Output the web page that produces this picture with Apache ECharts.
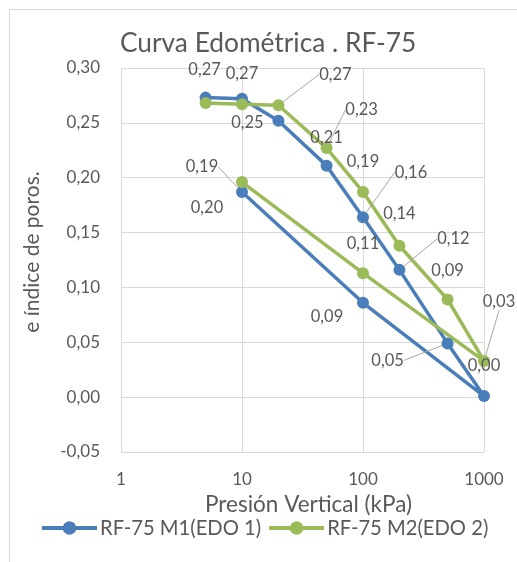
<!DOCTYPE html>
<html><head><meta charset="utf-8">
<script src="https://cdn.jsdelivr.net/npm/echarts@6/dist/echarts.min.js"></script>
<style>html,body{margin:0;padding:0;background:#fff}#c{width:517px;height:562px}</style>
</head><body><div id="c"></div><script>
// Data (loading 5 -> 1000 kPa, then unloading to 100 and 10 kPa)
const pressures = [5, 10, 20, 50, 100, 200, 500, 1000, 100, 10];
const m1Values = [0.273, 0.272, 0.252, 0.211, 0.164, 0.116, 0.049, 0.001, 0.086, 0.187];
const m2Values = [0.268, 0.267, 0.266, 0.227, 0.187, 0.138, 0.089, 0.033, 0.113, 0.196];
const seriesNames = ['RF-75 M1(EDO 1)', 'RF-75 M2(EDO 2)'];
const xTickLabels = ['1', '10', '100', '1000'];

// Label placement (style only)
const m1LabelMove = [[-1,-28],[0,-25],[-31,2],[0,-28],[48,-45],[54,-31],[-60,17],[0,-30],[-36,14],[-40,-25]];
const m1Leader = [0,0,0,0,1,1,1,0,0,1];
const m2LabelMove = [null,null,[57,-31],[35,-38],[0,-30],[0,-32],[0,-29],[15,-59],[0,-29],[-35,26]];
const m2Leader = [0,0,1,1,0,0,0,1,0,0];

const TXT = '#595959', GRID = '#d9d9d9', FONT = 'Lato';
const fmt = v => v.toFixed(2).replace('.', ',');

function build(values, moves, leaders) {
  return values.map((v, i) => {
    const item = { value: [pressures[i], v] };
    if (!moves[i]) item.label = { show: false };
    if (leaders[i]) item.labelLine = { show: true, lineStyle: { color: '#a6a6a6', width: 1 } };
    return item;
  });
}

function makeSeries(name, values, color, moves, leaders) {
  return {
    name, type: 'line', data: build(values, moves, leaders),
    color, symbol: 'circle', symbolSize: 12,
    lineStyle: { width: 3.5, color }, itemStyle: { color },
    label: {
      show: true, position: 'inside', color: TXT, fontSize: 16.5, fontFamily: FONT,
      formatter: p => fmt(p.value[1])
    },
    labelLine: { show: false },
    labelLayout: p => { const m = moves[p.dataIndex]; return m ? { dx: m[0], dy: m[1] } : {}; },
    emphasis: { disabled: true }, animation: false
  };
}

const chart = echarts.init(document.getElementById('c'), null, { renderer: 'canvas' });
chart.setOption({
  backgroundColor: '#fff',
  animation: false,
  graphic: [{ type: 'rect', left: 7, top: 7, shape: { width: 600, height: 600 },
    style: { fill: 'none', stroke: GRID, lineWidth: 1 }, silent: true }],
  title: { text: 'Curva Edométrica . RF-75', left: 115, top: 26,
    textStyle: { color: TXT, fontSize: 26.3, fontWeight: 'normal', fontFamily: FONT } },
  grid: { left: 121, right: 33, top: 68, bottom: 110 },
  legend: {
    bottom: 19, left: 35, width: 482, itemWidth: 55, itemHeight: 17, itemGap: 6,
    orient: 'horizontal',
    data: seriesNames,
    lineStyle: { width: 4 },
    textStyle: { color: TXT, fontSize: 20.2, fontFamily: FONT, padding: [0, 0, 0, -2] }
  },
  xAxis: {
    type: 'log', logBase: 10, min: 1, max: 1000,
    name: 'Presión Vertical (kPa)', nameLocation: 'middle', nameGap: 30,
    nameTextStyle: { color: TXT, fontSize: 22.5, fontFamily: FONT, padding: [0, 0, 0, 12] },
    axisLine: { show: true, lineStyle: { color: GRID } },
    axisTick: { show: false },
    axisLabel: { color: TXT, fontSize: 17, fontFamily: FONT, margin: 19,
      formatter: v => { const s = String(Math.round(v)); return xTickLabels.includes(s) ? s : ''; } },
    splitLine: { show: true, lineStyle: { color: GRID } },
    minorTick: { show: false }
  },
  yAxis: {
    type: 'value', min: -0.05, max: 0.30, interval: 0.05,
    name: 'e índice de poros.', nameLocation: 'middle', nameGap: 78,
    nameTextStyle: { color: TXT, fontSize: 21, fontFamily: FONT, padding: [0, 0, 0, 16] },
    axisLine: { show: true, lineStyle: { color: GRID } },
    axisTick: { show: false },
    axisLabel: { color: TXT, fontSize: 17, fontFamily: FONT, margin: 21, formatter: v => fmt(v) },
    splitLine: { show: true, lineStyle: { color: GRID } }
  },
  series: [
    makeSeries(seriesNames[0], m1Values, '#4A7EBB', m1LabelMove, m1Leader),
    makeSeries(seriesNames[1], m2Values, '#9BBB59', m2LabelMove, m2Leader)
  ]
});
</script></body></html>
